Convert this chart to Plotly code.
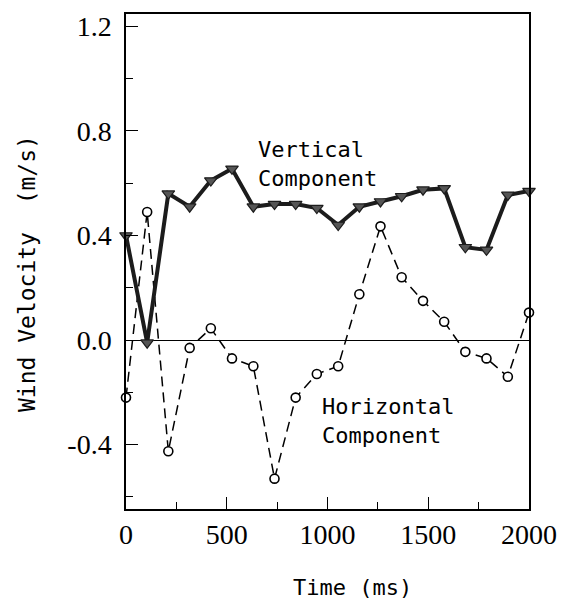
import plotly.graph_objects as go

# Sample times (ms): 20 samples evenly spread over 0-2000 ms
time_ms = [0, 105, 210, 316, 421, 526, 632, 737, 842, 947,
           1053, 1158, 1263, 1368, 1474, 1579, 1684, 1789, 1895, 2000]

# Wind velocity components (m/s)
vertical = [0.40, -0.01, 0.56, 0.51, 0.61, 0.655, 0.51, 0.52, 0.52, 0.505,
            0.44, 0.51, 0.53, 0.55, 0.575, 0.58, 0.355, 0.345, 0.555, 0.57]
horizontal = [-0.22, 0.49, -0.425, -0.03, 0.045, -0.07, -0.10, -0.53, -0.22, -0.13,
              -0.10, 0.175, 0.435, 0.24, 0.15, 0.07, -0.045, -0.07, -0.14, 0.105]

y_ticks = [-0.4, 0.0, 0.4, 0.8, 1.2]
y_ticktext = ["-0.4", "0.0", "0.4", "0.8", "1.2"]
x_ticks = [0, 500, 1000, 1500, 2000]

mono = "DejaVu Sans Mono"
serif = "Liberation Serif"

fig = go.Figure()

fig.add_trace(go.Scatter(
    x=time_ms, y=horizontal, mode="lines+markers",
    line=dict(color="black", width=1.5, dash="10px,6px"),
    marker=dict(symbol="circle", size=9, color="white",
                line=dict(color="black", width=1.6)),
    showlegend=False, cliponaxis=False,
))

fig.add_trace(go.Scatter(
    x=time_ms, y=vertical, mode="lines+markers",
    line=dict(color="#1c1c1c", width=4),
    marker=dict(symbol="triangle-down", size=11, color="#555555",
                line=dict(color="#1c1c1c", width=1.2)),
    showlegend=False, cliponaxis=False,
))

axis_common = dict(
    showline=True, linecolor="black", linewidth=1.5, mirror=True,
    showgrid=False, ticks="inside", ticklen=12, tickwidth=1.2, tickcolor="black",
    tickfont=dict(family=serif, size=28, color="black"),
)

fig.update_xaxes(
    range=[0, 2000], tickvals=x_ticks, zeroline=False,
    minor=dict(ticks="inside", ticklen=7, tickwidth=1.2, tickcolor="black", dtick=250, tick0=0),
    ticklabelstandoff=0,
    **axis_common,
)
fig.update_yaxes(
    range=[-0.646, 1.247], tickvals=y_ticks, ticktext=y_ticktext,
    zeroline=True, zerolinecolor="black", zerolinewidth=1.2,
    minor=dict(ticks="inside", ticklen=7, tickwidth=1.2, tickcolor="black", dtick=0.2, tick0=0),
    ticklabelstandoff=7,
    **axis_common,
)

fig.add_annotation(
    x=644, y=0.675, xref="x", yref="y", xanchor="left", yanchor="middle",
    text="Vertical<br>Component", showarrow=False, align="left",
    font=dict(family=mono, size=22, color="black"),
)
fig.add_annotation(
    x=961, y=-0.308, xref="x", yref="y", xanchor="left", yanchor="middle",
    text="Horizontal<br>Component", showarrow=False, align="left",
    font=dict(family=mono, size=22, color="black"),
)
fig.add_annotation(
    x=0.561, y=-0.1586, xref="paper", yref="paper", xanchor="center", yanchor="middle",
    text="Time (ms)", showarrow=False,
    font=dict(family=mono, size=22, color="black"),
)
fig.add_annotation(
    x=-0.244, y=0.476, xref="paper", yref="paper", xanchor="center", yanchor="middle",
    text="Wind Velocity  (m/s)", showarrow=False, textangle=-90,
    font=dict(family=mono, size=23, color="black"),
)

fig.update_layout(
    width=568, height=602,
    margin=dict(l=126, r=32, t=11, b=93),
    paper_bgcolor="white", plot_bgcolor="white",
)

fig.write_html("out.html")
